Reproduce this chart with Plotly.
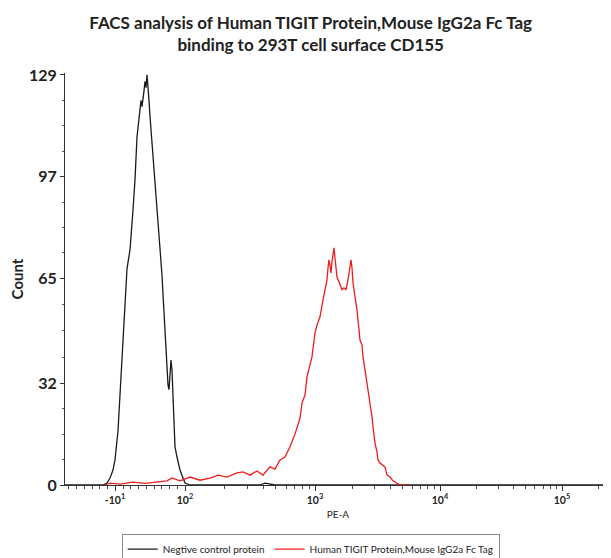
import math
import plotly.graph_objects as go

# ---- data (x in display units of the biexponential PE-A axis: 10^3 -> 3.0, 10^4 -> 4.0) ----
neg_x = [1.00, 1.24, 1.304, 1.336, 1.36, 1.384, 1.40, 1.424, 1.44, 1.456, 1.48, 1.496, 1.504, 1.52,
         1.544, 1.56, 1.576, 1.592, 1.60, 1.608, 1.616, 1.624, 1.632, 1.64, 1.648, 1.656, 1.660, 1.664,
         1.672, 1.68, 1.688, 1.704, 1.72, 1.736, 1.744, 1.76, 1.776, 1.784, 1.80, 1.816, 1.824, 1.832,
         1.84, 1.848, 1.856, 1.864, 1.872, 1.88, 1.896, 1.92, 1.944, 1.96, 2.00, 2.56, 2.60, 2.64,
         2.68, 3.12, 5.368]
neg_count = [0, 0, 0, 0.6, 2.2, 4.7, 7.9, 17, 29, 39, 55, 68, 70, 74,
             86.5, 96, 109.5, 115.5, 118, 121, 119, 123, 124, 127, 125, 129, 126, 124,
             121, 116, 112, 103, 96, 89, 83, 76, 66, 60, 46.6, 35, 31.5, 30,
             34.6, 39.3, 36, 29, 20.5, 12, 8.8, 4.7, 2.2, 0.6, 0, 0, 0.6, 0.3,
             0, 0, 0]

tigit_x = [1.32, 1.36, 1.44, 1.544, 1.64, 1.72, 1.816, 1.856, 1.92, 2.00, 2.08, 2.16, 2.224, 2.296,
           2.376, 2.424, 2.48, 2.536, 2.584, 2.64, 2.68, 2.72, 2.76, 2.80, 2.84, 2.88, 2.896, 2.92,
           2.936, 2.96, 2.976, 3.00, 3.016, 3.04, 3.048, 3.064, 3.08, 3.096, 3.104, 3.112, 3.12, 3.128,
           3.136, 3.152, 3.16, 3.176, 3.192, 3.216, 3.232, 3.248, 3.264, 3.28, 3.288, 3.296, 3.304,
           3.32, 3.336, 3.352, 3.36, 3.376, 3.384, 3.40, 3.416, 3.44, 3.456, 3.472, 3.48, 3.496,
           3.504, 3.52, 3.536, 3.56, 3.576, 3.60, 3.624, 3.656, 3.68, 3.736]
tigit_count = [0, 0.6, 0.3, 0.9, 0.5, 0.9, 1.3, 2.2, 1.3, 2.5, 1.5, 2.2, 3.1, 2.5,
               3.8, 4.1, 3.1, 4.4, 3.1, 5.7, 5.0, 7.9, 8.8, 12, 16, 21, 25.8, 28.3,
               34, 37.8, 40.3, 47.8, 50.3, 52.9, 55, 58.2, 61.4, 64.5, 68.3, 70.8, 69.2, 66.7,
               70.2, 74.6, 71.4, 65.4, 63.9, 61.4, 62, 61.4, 64.5, 69.2, 70.8, 68.3, 63.6,
               59.2, 55, 48.8, 45.6, 44, 40.3, 36.2, 32.1, 26.7, 21.4, 15.7, 13.2, 10.4,
               7.9, 6.9, 6.3, 5.7, 3.1, 2.5, 1.3, 0.6, 0, 0]

x_tick_pos = [1.40, 1.96, 3.0, 4.0, 4.976]
x_tick_text = ["-10<sup>1</sup>", "10<sup>2</sup>", "10<sup>3</sup>", "10<sup>4</sup>", "10<sup>5</sup>"]
y_tick_vals = [0, 32, 65, 97, 129]

title_text = "FACS analysis of Human TIGIT Protein,Mouse IgG2a Fc Tag<br>binding to 293T cell surface CD155"
legend_names = ["Negtive control protein", "Human TIGIT Protein,Mouse IgG2a Fc Tag"]

# ---- minor tick positions ----
x_minor = []
v = 1.96 - 0.062
while v > 1.0:
    x_minor.append(round(v, 3))
    v -= 0.062
for lo, hi in [(1.96, 3.0), (3.0, 4.0), (4.0, 4.976)]:
    for k in range(2, 10):
        x_minor.append(lo + (hi - lo) * math.log10(k))
x_minor.append(4.976 + 0.976 * math.log10(2))
x_minor.append(4.976 + 0.976 * math.log10(3))

y_minor = []
for a, b in zip(y_tick_vals[:-1], y_tick_vals[1:]):
    for j in range(1, 4):
        y_minor.append(a + (b - a) * j / 4)

FONT = "Lato"
W, H = 603, 550  # page body adds an 8px offset

fig = go.Figure()
fig.add_trace(go.Scatter(x=neg_x, y=neg_count, mode="lines", name=legend_names[0],
                         line=dict(color="#1a1a1a", width=1.3)))
fig.add_trace(go.Scatter(x=tigit_x, y=tigit_count, mode="lines", name=legend_names[1],
                         line=dict(color="#ee1c1c", width=1.3)))

fig.update_layout(
    width=W, height=H,
    margin=dict(l=57, r=0, t=65, b=73, autoexpand=False),
    paper_bgcolor="white", plot_bgcolor="white",
    font=dict(family=FONT, color="#222"),
    title=dict(text=title_text, x=0.502, xanchor="center", y=0.962, yanchor="middle",
               font=dict(family=FONT, size=17, weight="bold", color="#222")),
    showlegend=True,
    legend=dict(orientation="h", xref="container", yref="container",
                x=0.502, xanchor="center", y=0.016, yanchor="middle",
                bordercolor="#888", borderwidth=1, font=dict(size=10, family=FONT, color="#222"),
                itemwidth=30, tracegroupgap=0, traceorder="normal"),
    xaxis=dict(range=[1.0, 5.368], showgrid=False, zeroline=False, automargin=False,
               showline=True, linecolor="#333", linewidth=1,
               tickmode="array", tickvals=x_tick_pos, ticktext=x_tick_text,
               ticks="outside", ticklen=5, tickcolor="#333",
               tickfont=dict(size=10.5, family=FONT, weight="bold", color="#222"),
               minor=dict(tickmode="array", tickvals=x_minor, ticks="outside", ticklen=3, tickcolor="#444"),
               title=dict(text="PE-A", standoff=6, font=dict(size=10, family=FONT, color="#222"))),
    yaxis=dict(range=[0, 129.6], showgrid=False, zeroline=False, automargin=False,
               showline=True, linecolor="#333", linewidth=1,
               tickmode="array", tickvals=y_tick_vals, ticktext=[str(t) for t in y_tick_vals],
               ticks="outside", ticklen=4, tickcolor="#333",
               tickfont=dict(size=16, family=FONT, weight="bold", color="#222"),
               minor=dict(tickmode="array", tickvals=y_minor, ticks="outside", ticklen=2, tickcolor="#555"),
               title=dict(text="Count", standoff=7, font=dict(size=15, family=FONT, weight="bold", color="#222"))),
)

fig.write_html("out.html")
